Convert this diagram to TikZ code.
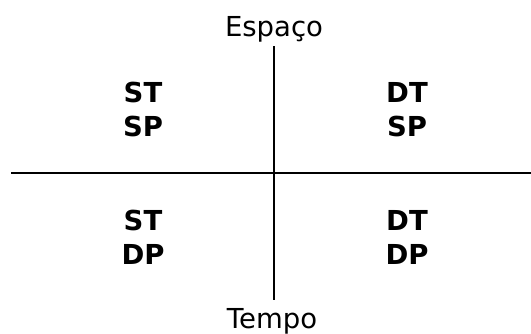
\documentclass[tikz,border=0pt]{standalone}
\usepackage{fontspec}
\setmainfont{DejaVu Sans}
\usetikzlibrary{positioning}

\tikzset{
  axis/.style={line width=2bp, black},
  quad/.style={inner sep=0pt, align=center,
               font=\fontsize{27.5bp}{34bp}\selectfont\bfseries},
  axlabel/.style={inner sep=0pt, anchor=base,
                  font=\fontsize{27.5bp}{34bp}\selectfont}
}

\begin{document}
\begin{tikzpicture}[x=1bp,y=1bp]

  \useasboundingbox (0,0) rectangle (531,333);

  \coordinate (T) at (274,287);
  \coordinate (B) at (274,33);
  \coordinate (L) at (11,160);
  \coordinate (R) at (531,160);

  \draw[axis] (T) -- (B);
  \draw[axis] (L) -- (R);

  \node[quad] (stsp) at (143,223.5) {ST\\SP};
  \node[quad] (dtsp) at (407,223.5) {DT\\SP};
  \node[quad] (stdp) at (143,95.5)  {ST\\DP};
  \node[quad] (dtdp) at (407,95.5)  {DT\\DP};

  \node[axlabel] (espaco) at (274,297) {Espaço};
  \node[axlabel] (tempo)  at (272,5)   {Tempo};

\end{tikzpicture}
\end{document}
